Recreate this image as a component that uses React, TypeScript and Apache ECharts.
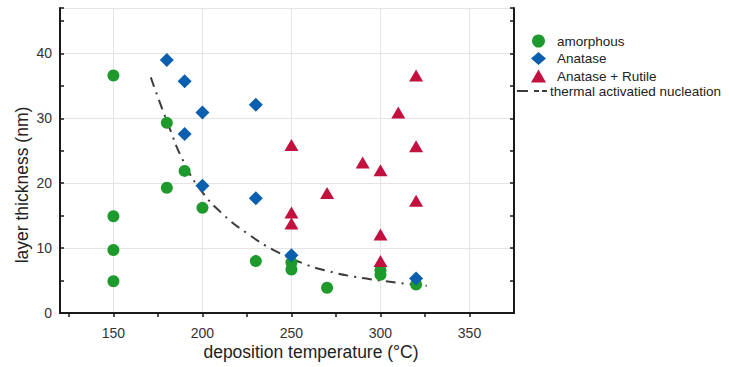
import React, { useEffect, useRef } from "react";
import * as echarts from "echarts";

const amorphous: number[][] = [
  [150, 36.6], [150, 14.9], [150, 9.7], [150, 4.9],
  [180, 29.3], [180, 19.3], [190, 21.9], [200, 16.2],
  [230, 8.0], [250, 7.8], [250, 6.7], [270, 3.9],
  [300, 6.6], [300, 5.9], [320, 4.4],
];
const anatase: number[][] = [
  [180, 39.0], [190, 35.7], [200, 30.9], [190, 27.6], [200, 19.6],
  [230, 32.1], [230, 17.7], [250, 8.9], [320, 5.3],
];
const anataseRutile: number[][] = [
  [250, 25.9], [250, 15.5], [250, 13.8], [270, 18.5], [290, 23.2],
  [300, 22.0], [300, 12.1], [300, 8.0], [310, 30.9], [320, 36.6],
  [320, 25.7], [320, 17.3],
];
const nucleationCurve: number[][] = [
  [171, 36.3], [180, 29.6], [190, 23.0], [200, 18.6], [212, 15.1],
  [225, 12.3], [240, 9.7], [257, 7.6], [270, 6.5], [285, 5.6],
  [300, 5.0], [315, 4.5], [326, 4.2],
];
const xTickLabels = [150, 200, 250, 300, 350];
const xTicks = [125, 150, 175, 200, 225, 250, 275, 300, 325, 350];
const yTickLabels = [0, 10, 20, 30, 40];

const FONT = "'Liberation Sans', Arial, sans-serif";
const GREEN = "#1d9a2b";
const BLUE = "#0a5fae";
const RED = "#c2113f";
const AXIS = "#1a1a1a";
const GRID = "#e4e4e4";

export default function App() {
  const ref = useRef<HTMLDivElement>(null);
  useEffect(() => {
    if (!ref.current) return;
    const chart = echarts.init(ref.current, null, { renderer: "svg" });
    const xRange = { min: 120, max: 375 };
    const yRange = { min: 0, max: 47 };
    chart.setOption({
      animation: false,
      textStyle: { fontFamily: FONT },
      grid: { left: 60, right: 215, top: 8, bottom: 54, containLabel: false },
      legend: [
        {
          orient: "vertical",
          left: 526,
          top: 29,
          itemWidth: 15,
          itemHeight: 13,
          itemGap: 3.5,
          textStyle: { fontFamily: FONT, fontSize: 13.5, color: "#222", padding: [0, 0, 0, 6] },
          data: ["amorphous", "Anatase", "Anatase + Rutile"],
        },
        {
          orient: "vertical",
          left: 512,
          top: 79,
          itemWidth: 30,
          itemHeight: 2,
          textStyle: { fontFamily: FONT, fontSize: 13.5, color: "#222", padding: [0, 0, 0, -2] },
          data: [
            {
              name: "thermal activatied nucleation",
              icon: "path://M0,0h11v2h-11z M17,0h5v2h-5z M25,0h5v2h-5z",
            },
          ],
        },
      ],
      xAxis: [
        {
          type: "value", ...xRange, position: "bottom",
          axisLine: { show: true, lineStyle: { color: AXIS, width: 2 } },
          axisTick: {
            show: true, inside: false, length: 4, customValues: xTicks,
            lineStyle: { color: AXIS, width: 1.5 },
          },
          axisLabel: {
            margin: 13, fontSize: 14, color: "#333", fontFamily: FONT,
            customValues: xTickLabels,
          },
          splitLine: { show: false },
        },
        {
          type: "value", ...xRange, position: "top",
          axisLine: { show: true, lineStyle: { color: AXIS, width: 2 } },
          axisTick: { show: false }, axisLabel: { show: false }, splitLine: { show: false },
        },
      ],
      yAxis: [
        {
          type: "value", ...yRange, interval: 5, position: "left",
          axisLine: { show: true, lineStyle: { color: AXIS, width: 2 } },
          axisTick: { show: true, inside: true, length: 4, lineStyle: { color: AXIS, width: 1.5 } },
          axisLabel: {
            margin: 8, fontSize: 14, color: "#333", fontFamily: FONT,
            formatter: (v: number) => (yTickLabels.indexOf(v) >= 0 ? String(v) : ""),
          },
          splitLine: { show: false },
        },
        {
          type: "value", ...yRange, interval: 10, position: "left",
          axisLine: { show: false }, axisTick: { show: false }, axisLabel: { show: false },
          splitLine: { show: true, lineStyle: { color: GRID, width: 1 } },
        },
        {
          type: "value", ...yRange, interval: 5, position: "right",
          axisLine: { show: true, lineStyle: { color: AXIS, width: 2 } },
          axisTick: { show: true, inside: true, length: 4, lineStyle: { color: AXIS, width: 1.5 } },
          axisLabel: { show: false }, splitLine: { show: false },
        },
      ],
      graphic: [
        {
          type: "text", x: 311, y: 352,
          style: {
            text: "deposition temperature (°C)", fontSize: 17.5, fontFamily: FONT,
            fill: "#222", align: "center", verticalAlign: "middle",
          },
        },
        {
          type: "text", x: 22, y: 185, rotation: Math.PI / 2,
          style: {
            text: "layer thickness (nm)", fontSize: 17.5, fontFamily: FONT,
            fill: "#222", align: "center", verticalAlign: "middle",
          },
        },
      ],
      series: [
        {
          name: "xgrid", type: "line", xAxisIndex: 0, yAxisIndex: 0, data: [], z: 0,
          markLine: {
            silent: true, z: 0, symbol: ["none", "none"], label: { show: false },
            lineStyle: { color: GRID, width: 1, type: "solid" },
            emphasis: { disabled: true },
            data: xTickLabels.map((v) => ({ xAxis: v })),
          },
        },
        {
          name: "thermal activatied nucleation", type: "line", xAxisIndex: 0, yAxisIndex: 0,
          data: nucleationCurve, smooth: true, symbol: "none", z: 1,
          lineStyle: { color: "#3c3c3c", width: 2, type: [10, 6, 2, 6] },
          itemStyle: { color: "#3c3c3c" },
        },
        {
          name: "amorphous", type: "scatter", xAxisIndex: 0, yAxisIndex: 0,
          data: amorphous, symbol: "circle", symbolSize: 12, z: 2,
          itemStyle: { color: GREEN, opacity: 1 },
        },
        {
          name: "Anatase", type: "scatter", xAxisIndex: 0, yAxisIndex: 0,
          data: anatase, symbol: "diamond", symbolSize: 14, z: 3,
          itemStyle: { color: BLUE, opacity: 1 },
        },
        {
          name: "Anatase + Rutile", type: "scatter", xAxisIndex: 0, yAxisIndex: 0,
          data: anataseRutile, symbol: "triangle", symbolSize: [14, 12], z: 3,
          itemStyle: { color: RED, opacity: 1 },
        },
      ],
    });
    return () => chart.dispose();
  }, []);
  return (
    <div
      ref={ref}
      style={{ position: "fixed", left: 0, top: 0, width: 729, height: 367, background: "#fff" }}
    />
  );
}
